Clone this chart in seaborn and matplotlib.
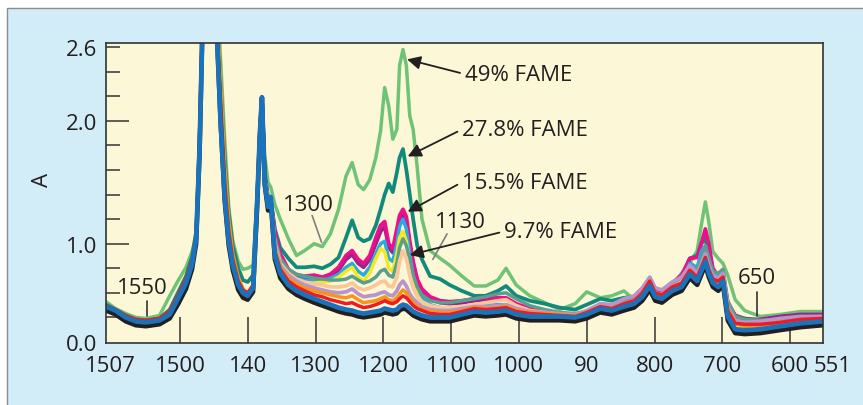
import numpy as np
import pandas as pd
import matplotlib
matplotlib.use("Agg")
import matplotlib.pyplot as plt
import seaborn as sns
from matplotlib.patches import Rectangle

sns.set_style("white")
plt.rcParams['font.family'] = ['Open Sans', 'DejaVu Sans']

# ---------------- data (wavenumber grid, absorbance) ----------------
wn = [1609, 1595, 1580, 1565, 1550, 1530, 1515, 1503, 1491, 1482,
      1476, 1471, 1467, 1455, 1445, 1440, 1434, 1428, 1422, 1414,
      1407, 1400, 1392, 1386, 1382, 1379, 1375, 1370, 1366, 1360,
      1352, 1340, 1328, 1316, 1302, 1290, 1278, 1266, 1255, 1246,
      1237, 1229, 1220, 1211, 1204, 1198, 1192, 1186, 1180, 1176,
      1171, 1166, 1161, 1156, 1150, 1143, 1131, 1116, 1102, 1084,
      1066, 1049, 1031, 1019, 1004, 984, 962, 940, 917, 900,
      880, 863, 845, 830, 818, 807, 799, 789, 774, 760,
      748, 737, 731, 725, 720, 714, 706, 699, 692, 681,
      667, 644, 615, 585, 552]
wn_mid = wn[24:]

blue = [0.36, 0.32, 0.25, 0.21, 0.20, 0.22, 0.28, 0.44, 0.60, 0.79,
        1.04, 1.77, 2.70, 3.00, 2.65, 2.00, 1.38, 1.02, 0.78, 0.58,
        0.50, 0.47, 0.55, 1.35, 1.90, 2.19, 1.50, 1.30, 1.38, 0.88,
        0.70, 0.58, 0.52, 0.48, 0.44, 0.41, 0.38, 0.35, 0.33, 0.32,
        0.30, 0.29, 0.30, 0.31, 0.32, 0.34, 0.33, 0.32, 0.33, 0.36,
        0.38, 0.37, 0.34, 0.31, 0.29, 0.27, 0.25, 0.25, 0.25, 0.28,
        0.31, 0.30, 0.31, 0.32, 0.28, 0.26, 0.26, 0.26, 0.25, 0.28,
        0.34, 0.32, 0.36, 0.39, 0.46, 0.57, 0.46, 0.44, 0.52, 0.56,
        0.69, 0.62, 0.72, 0.82, 0.70, 0.60, 0.56, 0.62, 0.26, 0.13,
        0.12, 0.13, 0.16, 0.19, 0.21]
black = [0.32, 0.28, 0.21, 0.17, 0.16, 0.18, 0.24, 0.38, 0.54, 0.74,
         1.00, 1.72, 2.70, 3.00, 2.65, 1.98, 1.35, 0.98, 0.73, 0.53,
         0.45, 0.43, 0.51, 1.30, 1.88, 2.19, 1.48, 1.27, 1.34, 0.84,
         0.65, 0.54, 0.48, 0.44, 0.40, 0.37, 0.34, 0.31, 0.29, 0.28,
         0.26, 0.25, 0.26, 0.27, 0.28, 0.30, 0.29, 0.28, 0.29, 0.32,
         0.34, 0.33, 0.30, 0.27, 0.25, 0.23, 0.21, 0.21, 0.21, 0.24,
         0.27, 0.26, 0.27, 0.28, 0.24, 0.22, 0.22, 0.22, 0.21, 0.24,
         0.30, 0.28, 0.32, 0.35, 0.42, 0.53, 0.42, 0.40, 0.48, 0.52,
         0.65, 0.58, 0.68, 0.78, 0.66, 0.56, 0.52, 0.58, 0.22, 0.09,
         0.08, 0.09, 0.12, 0.15, 0.17]
red = [0.37, 0.33, 0.27, 0.23, 0.22, 0.24, 0.31, 0.47, 0.64, 0.83,
       1.06, 1.80, 2.70, 3.00, 2.70, 2.15, 1.50, 1.10, 0.84, 0.62,
       0.53, 0.50, 0.58, 1.35, 1.90, 2.19, 1.50, 1.32, 1.34, 0.92,
       0.74, 0.62, 0.56, 0.52, 0.48, 0.46, 0.43, 0.41, 0.39, 0.40,
       0.37, 0.35, 0.36, 0.38, 0.40, 0.42, 0.40, 0.39, 0.41, 0.44,
       0.47, 0.45, 0.41, 0.37, 0.34, 0.32, 0.29, 0.28, 0.28, 0.31,
       0.34, 0.33, 0.34, 0.35, 0.31, 0.29, 0.28, 0.27, 0.26, 0.30,
       0.36, 0.34, 0.39, 0.42, 0.50, 0.62, 0.50, 0.48, 0.56, 0.60,
       0.73, 0.66, 0.76, 0.86, 0.74, 0.64, 0.62, 0.66, 0.32, 0.19,
       0.18, 0.18, 0.20, 0.23, 0.24]
orange = [0.36, 0.32, 0.26, 0.22, 0.21, 0.23, 0.30, 0.46, 0.63, 0.82,
          1.05, 1.78, 2.70, 3.00, 2.85, 2.35, 1.65, 1.20, 0.90, 0.66,
          0.54, 0.49, 0.57, 1.33, 1.90, 2.19, 1.50, 1.32, 1.34, 0.95,
          0.76, 0.65, 0.59, 0.55, 0.52, 0.50, 0.48, 0.46, 0.45, 0.47,
          0.43, 0.40, 0.41, 0.42, 0.44, 0.46, 0.43, 0.42, 0.45, 0.49,
          0.53, 0.50, 0.44, 0.40, 0.36, 0.33, 0.31, 0.30, 0.30, 0.32,
          0.35, 0.34, 0.35, 0.36, 0.32, 0.30, 0.29, 0.28, 0.27, 0.30,
          0.36, 0.34, 0.38, 0.41, 0.48, 0.60, 0.49, 0.47, 0.55, 0.59,
          0.72, 0.65, 0.75, 0.85, 0.73, 0.63, 0.62, 0.66, 0.35, 0.19,
          0.16, 0.17, 0.19, 0.21, 0.22]
fame_49 = [0.41, 0.34, 0.29, 0.25, 0.24, 0.27, 0.47, 0.62, 0.76, 0.92,
           1.06, 1.90, 2.70, 3.00, 3.00, 2.50, 1.85, 1.30, 1.02, 0.82,
           0.74, 0.75, 0.78, 1.40, 1.92, 2.19, 1.72, 1.50, 1.46, 1.32,
           1.20, 1.04, 0.88, 0.93, 1.00, 0.97, 1.08, 1.28, 1.55, 1.66,
           1.48, 1.44, 1.52, 1.70, 1.92, 2.27, 2.12, 1.85, 1.93, 2.45,
           2.58, 2.45, 2.04, 1.93, 1.62, 1.20, 0.93, 0.85, 0.78, 0.67,
           0.57, 0.57, 0.63, 0.75, 0.58, 0.47, 0.40, 0.33, 0.39, 0.51,
           0.45, 0.47, 0.52, 0.43, 0.48, 0.58, 0.50, 0.50, 0.58, 0.70,
           0.80, 0.93, 1.15, 1.34, 1.18, 0.92, 0.85, 0.80, 0.68, 0.43,
           0.32, 0.26, 0.28, 0.31, 0.31]
fame_278 = [0.38, 0.33, 0.27, 0.23, 0.22, 0.24, 0.33, 0.50, 0.67, 0.87,
            1.10, 1.85, 2.70, 3.00, 2.85, 2.30, 1.70, 1.25, 0.98, 0.75,
            0.63, 0.61, 0.68, 1.38, 1.92, 2.19, 1.58, 1.38, 1.36, 1.12,
            0.96, 0.85, 0.76, 0.76, 0.77, 0.75, 0.79, 0.86, 1.05, 1.19,
            1.05, 1.02, 1.04, 1.15, 1.28, 1.40, 1.49, 1.42, 1.58, 1.70,
            1.77, 1.60, 1.40, 1.20, 0.98, 0.84, 0.67, 0.64, 0.58, 0.52,
            0.47, 0.47, 0.52, 0.57, 0.47, 0.42, 0.39, 0.35, 0.33, 0.38,
            0.44, 0.42, 0.45, 0.46, 0.52, 0.62, 0.52, 0.51, 0.59, 0.66,
            0.85, 0.88, 1.00, 1.04, 0.90, 0.66, 0.59, 0.62, 0.40, 0.27,
            0.24, 0.22, 0.21, 0.23, 0.24]
lilac = [1.90, 2.19, 1.52, 1.32, 1.35, 0.98,
         0.78, 0.68, 0.62, 0.58, 0.55, 0.53, 0.51, 0.50, 0.51, 0.54,
         0.49, 0.46, 0.47, 0.48, 0.50, 0.51, 0.48, 0.47, 0.52, 0.58,
         0.62, 0.57, 0.49, 0.44, 0.40, 0.36, 0.33, 0.32, 0.32, 0.34,
         0.36, 0.36, 0.37, 0.38, 0.34, 0.31, 0.30, 0.29, 0.28, 0.32,
         0.39, 0.38, 0.44, 0.47, 0.55, 0.66, 0.55, 0.53, 0.61, 0.66,
         0.78, 0.70, 0.80, 0.90, 0.78, 0.68, 0.65, 0.70, 0.36, 0.22,
         0.20, 0.21, 0.24, 0.26, 0.26]
peach = [1.90, 2.19, 1.52, 1.32, 1.35, 1.00,
         0.80, 0.70, 0.64, 0.61, 0.59, 0.58, 0.56, 0.56, 0.57, 0.60,
         0.55, 0.53, 0.55, 0.58, 0.61, 0.62, 0.57, 0.56, 0.66, 0.82,
         0.93, 0.85, 0.68, 0.55, 0.46, 0.41, 0.37, 0.35, 0.35, 0.36,
         0.38, 0.40, 0.42, 0.43, 0.37, 0.32, 0.30, 0.28, 0.27, 0.30,
         0.36, 0.34, 0.39, 0.42, 0.50, 0.61, 0.50, 0.48, 0.56, 0.61,
         0.74, 0.67, 0.77, 0.87, 0.75, 0.65, 0.64, 0.68, 0.33, 0.20,
         0.18, 0.18, 0.20, 0.22, 0.23]
fame_97 = [1.90, 2.19, 1.55, 1.35, 1.35, 1.05,
           0.85, 0.74, 0.69, 0.67, 0.65, 0.64, 0.63, 0.63, 0.64, 0.67,
           0.63, 0.60, 0.62, 0.66, 0.72, 0.74, 0.68, 0.66, 0.80, 0.96,
           1.04, 0.98, 0.84, 0.68, 0.56, 0.48, 0.42, 0.40, 0.40, 0.42,
           0.44, 0.46, 0.49, 0.50, 0.44, 0.37, 0.33, 0.30, 0.29, 0.31,
           0.37, 0.36, 0.41, 0.44, 0.50, 0.61, 0.50, 0.49, 0.57, 0.63,
           0.78, 0.72, 0.85, 0.98, 0.85, 0.72, 0.70, 0.74, 0.42, 0.26,
           0.23, 0.22, 0.23, 0.25, 0.26]
yellow = [1.90, 2.19, 1.52, 1.32, 1.35, 1.00,
          0.80, 0.68, 0.62, 0.60, 0.60, 0.61, 0.62, 0.66, 0.72, 0.76,
          0.66, 0.62, 0.70, 0.85, 0.95, 0.92, 0.75, 0.72, 0.90, 1.05,
          1.10, 1.02, 0.80, 0.60, 0.48, 0.40, 0.35, 0.32, 0.31, 0.32,
          0.34, 0.34, 0.34, 0.34, 0.30, 0.26, 0.25, 0.24, 0.24, 0.27,
          0.33, 0.31, 0.35, 0.38, 0.45, 0.55, 0.45, 0.43, 0.51, 0.55,
          0.68, 0.61, 0.71, 0.81, 0.69, 0.59, 0.58, 0.62, 0.30, 0.17,
          0.15, 0.15, 0.17, 0.20, 0.21]
cyan = [1.90, 2.19, 1.52, 1.34, 1.35, 1.02,
        0.82, 0.70, 0.65, 0.63, 0.62, 0.63, 0.65, 0.69, 0.76, 0.80,
        0.72, 0.68, 0.76, 0.90, 1.00, 1.02, 0.85, 0.82, 1.00, 1.14,
        1.20, 1.12, 0.90, 0.68, 0.54, 0.45, 0.38, 0.35, 0.34, 0.35,
        0.37, 0.37, 0.38, 0.38, 0.33, 0.29, 0.27, 0.26, 0.26, 0.29,
        0.35, 0.33, 0.38, 0.41, 0.48, 0.58, 0.48, 0.47, 0.56, 0.62,
        0.80, 0.76, 0.92, 0.98, 0.86, 0.70, 0.66, 0.70, 0.36, 0.20,
        0.17, 0.17, 0.19, 0.21, 0.22]
purple = [1.90, 2.19, 1.55, 1.35, 1.35, 1.07,
          0.87, 0.72, 0.66, 0.65, 0.66, 0.64, 0.66, 0.73, 0.84, 0.89,
          0.80, 0.76, 0.84, 1.00, 1.10, 1.14, 0.96, 0.91, 1.07, 1.18,
          1.23, 1.17, 0.98, 0.79, 0.62, 0.52, 0.44, 0.40, 0.39, 0.40,
          0.42, 0.43, 0.43, 0.44, 0.38, 0.33, 0.30, 0.28, 0.27, 0.31,
          0.38, 0.37, 0.43, 0.46, 0.54, 0.65, 0.54, 0.52, 0.60, 0.65,
          0.80, 0.74, 0.86, 0.96, 0.82, 0.70, 0.64, 0.66, 0.38, 0.26,
          0.23, 0.23, 0.26, 0.28, 0.28]
fame_155 = [1.90, 2.19, 1.55, 1.35, 1.36, 1.10,
            0.90, 0.74, 0.68, 0.67, 0.68, 0.66, 0.69, 0.76, 0.88, 0.93,
            0.84, 0.80, 0.88, 1.05, 1.15, 1.18, 1.00, 0.95, 1.12, 1.23,
            1.28, 1.22, 1.02, 0.82, 0.64, 0.54, 0.46, 0.42, 0.41, 0.42,
            0.44, 0.45, 0.45, 0.45, 0.39, 0.34, 0.31, 0.29, 0.28, 0.31,
            0.37, 0.35, 0.40, 0.43, 0.50, 0.60, 0.51, 0.50, 0.60, 0.68,
            0.85, 0.86, 1.00, 1.12, 1.00, 0.75, 0.67, 0.71, 0.40, 0.27,
            0.23, 0.22, 0.22, 0.25, 0.27]

x_tick_pos = [1500, 1400, 1300, 1200, 1100, 1000, 900, 800, 700, 600]
x_tick_lab = ["1500", "140", "1300", "1200", "1100", "1000", "90", "800", "700", "600"]
y_tick_pos = [0, 1, 2, 2.6]
y_tick_lab = ["0.0", "1.0", "2.0", "2.6"]
y_minor = [0.25, 0.5, 0.75, 1.2, 1.4, 1.6, 1.8, 2.2, 2.4]

# draw order: first = underneath
series = [
    (wn, fame_49, '#6fc276', 2.5),
    (wn, fame_278, '#118a7c', 2.7),
    (wn_mid, purple, '#93278f', 2.7),
    (wn_mid, fame_155, '#ec0e8c', 2.7),
    (wn_mid, cyan, '#27aae1', 2.5),
    (wn_mid, yellow, '#f6e81e', 2.5),
    (wn_mid, fame_97, '#5a9e8e', 2.5),
    (wn_mid, peach, '#fbc796', 2.7),
    (wn_mid, lilac, '#b894c8', 2.7),
    (wn, orange, '#f7941d', 2.5),
    (wn, red, '#ed1c24', 2.5),
    (wn, black, '#231f20', 3.2),
    (wn, blue, '#1a72ba', 3.4),
]

TXT = '#231f20'
FS = 16

fig = plt.figure(figsize=(8.63, 4.06), dpi=100, facecolor='white')
fig.patches.append(Rectangle((7 / 863, -0.1), 1.2, 1.1 - 9 / 406,
                             transform=fig.transFigure, facecolor='#d3edf8',
                             edgecolor='#8c8c8c', lw=1.0, zorder=-10))
ax = fig.add_axes([106 / 863, 1 - 344 / 406, 717 / 863, 300 / 406])
ax.set_facecolor('#fcf8d7')

for xs, ys, col, lw in series:
    df = pd.DataFrame({'wn': xs, 'A': ys})
    sns.lineplot(data=df, x='wn', y='A', ax=ax, color=col, lw=lw, sort=False,
                 estimator=None, solid_joinstyle='round', solid_capstyle='round')


def fwd(y):
    y = np.asarray(y, dtype=float)
    return np.where(y <= 1, 0.2 + 0.8 * y, y)


def inv(p):
    p = np.asarray(p, dtype=float)
    return np.where(p <= 1, (p - 0.2) / 0.8, p)


ax.set_yscale('function', functions=(fwd, inv))
ax.set_xlim(1609, 551.5)
ax.set_ylim(-0.01, 2.633)
ax.set_xlabel('')
ax.set_ylabel('')

ax.set_xticks(x_tick_pos)
ax.set_xticklabels(x_tick_lab)
ax.set_yticks(y_tick_pos)
ax.set_yticklabels(y_tick_lab)
ax.set_yticks(y_minor, minor=True)
ax.xaxis.set_minor_locator(matplotlib.ticker.NullLocator())

ax.tick_params(axis='x', which='major', direction='in', length=18.7, width=1.1,
               pad=9.0, labelsize=FS, color='#333333', labelcolor=TXT,
               bottom=True, top=False)
ax.tick_params(axis='y', which='major', direction='in', length=16.5, width=1.1,
               pad=6.5, labelsize=FS, color='#333333', labelcolor=TXT,
               left=True, right=False)
ax.tick_params(axis='y', which='minor', direction='in', length=10, width=1.1,
               color='#333333', left=True, right=False)
yt = ax.yaxis.get_major_ticks()
yt[3].tick1line.set_markersize(10)
yt[0].tick1line.set_visible(False)

for sp in ax.spines.values():
    sp.set_color('#333333')
    sp.set_linewidth(1.2)

# edge labels of the x axis
for xv, lab in [(1603, "1507"), (537, "551")]:
    ax.annotate(lab, xy=(xv, 0), xycoords=('data', 'axes fraction'),
                xytext=(0, -9.0), textcoords='offset points', ha='center',
                va='top', fontsize=FS, color=TXT, annotation_clip=False)

fig.text(42 / 863, 1 - 180 / 406, 'A', rotation=90, ha='center', va='center',
         fontsize=FS, color=TXT)

# FAME annotations
arrow = dict(arrowstyle='-|>', color=TXT, lw=1.3, mutation_scale=20,
             shrinkA=1, shrinkB=0, relpos=(0, 0.5))
ax.annotate('49% FAME', xy=(1165, 2.50), xytext=(1080, 2.38), ha='left', va='center',
            fontsize=FS, color=TXT, arrowprops=arrow)
ax.annotate('27.8% FAME', xy=(1164, 1.71), xytext=(1084, 1.93), ha='left', va='center',
            fontsize=FS, color=TXT, arrowprops=arrow)
ax.annotate('15.5% FAME', xy=(1164, 1.26), xytext=(1084, 1.50), ha='left', va='center',
            fontsize=FS, color=TXT, arrowprops=arrow)
ax.annotate('9.7% FAME', xy=(1161, 0.885), xytext=(1022, 1.10), ha='left', va='center',
            fontsize=FS, color=TXT, arrowprops=arrow)

# band labels
ax.text(1311, 1.32, '1300', ha='center', va='center', fontsize=FS, color=TXT)
ax.plot([1305, 1291], [1.23, 1.01], color='#7f7f7f', lw=1.2)
ax.text(1087, 1.18, '1130', ha='center', va='center', fontsize=FS, color=TXT)
ax.plot([1106, 1127], [1.08, 0.84], color='#7f7f7f', lw=1.2)
ax.text(1555, 0.55, '1550', ha='center', va='center', fontsize=FS, color=TXT)
ax.plot([1549, 1549], [0.42, 0.26], color='#333333', lw=1.2)
ax.text(649, 0.66, '650', ha='center', va='center', fontsize=FS, color=TXT)
ax.plot([649, 649], [0.51, 0.26], color='#333333', lw=1.2)

fig.savefig('out.png', dpi=100, facecolor=fig.get_facecolor())
